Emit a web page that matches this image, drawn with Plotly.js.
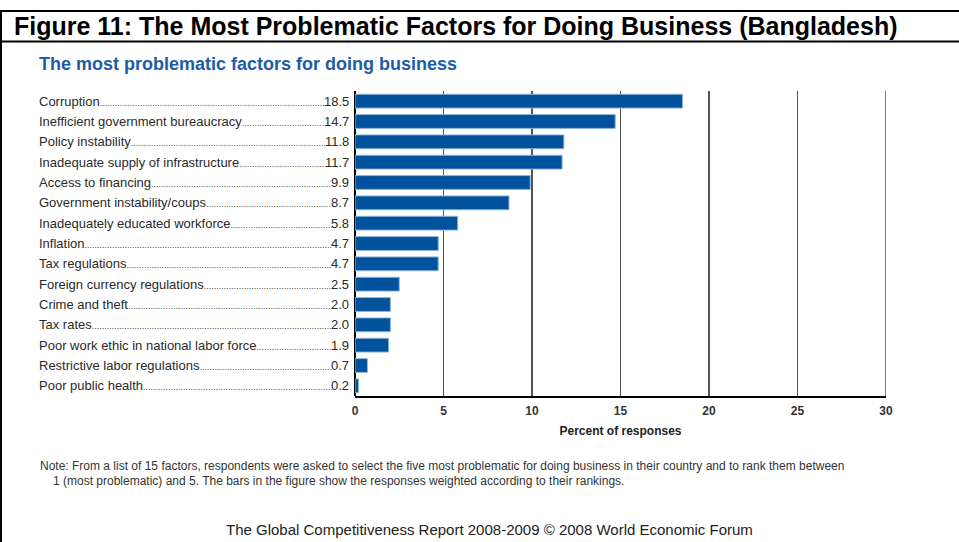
<!DOCTYPE html>
<html>
<head>
<meta charset="utf-8">
<script src="https://cdn.plot.ly/plotly-3.0.1.min.js"></script>
<style>html,body{margin:0;padding:0;background:#fff;}#chart{width:959px;height:542px;}</style>
</head>
<body>
<div id="chart"></div>
<script>
// ---- data ----
const categories = [
  "Corruption",
  "Inefficient government bureaucracy",
  "Policy instability",
  "Inadequate supply of infrastructure",
  "Access to financing",
  "Government instability/coups",
  "Inadequately educated workforce",
  "Inflation",
  "Tax regulations",
  "Foreign currency regulations",
  "Crime and theft",
  "Tax rates",
  "Poor work ethic in national labor force",
  "Restrictive labor regulations",
  "Poor public health"
];
const values = [18.5, 14.7, 11.8, 11.7, 9.9, 8.7, 5.8, 4.7, 4.7, 2.5, 2.0, 2.0, 1.9, 0.7, 0.2];
const valueLabels = ["18.5", "14.7", "11.8", "11.7", "9.9", "8.7", "5.8", "4.7", "4.7", "2.5", "2.0", "2.0", "1.9", "0.7", "0.2"];
const tickValues = [0, 5, 10, 15, 20, 25, 30];
const tickLabels = ["0", "5", "10", "15", "20", "25", "30"];

const figureTitle = "Figure 11: The Most Problematic Factors for Doing Business (Bangladesh)";
const chartTitle = "The most problematic factors for doing business";
const xTitle = "Percent of responses";
const noteLine1 = "Note: From a list of 15 factors, respondents were asked to select the five most problematic for doing business in their country and to rank them between";
const noteLine2 = "1 (most problematic) and 5. The bars in the figure show the responses weighted according to their rankings.";
const footer = "The Global Competitiveness Report 2008-2009 \u00A9 2008 World Economic Forum";

// ---- layout helpers (pixel -> paper) ----
const W = 959, H = 542;
const M = {l: 355, r: 73, t: 91, b: 146};
const PW = W - M.l - M.r, PH = H - M.t - M.b;
const px = x => (x - M.l) / PW;
const py = y => (H - M.b - y) / PH;

const FONT = "'Liberation Sans', Arial, Helvetica, sans-serif";
const canvas = document.createElement('canvas');
const ctx = canvas.getContext('2d');
function textW(str, size, weight) {
  ctx.font = (weight || 'normal') + ' ' + size + 'px ' + FONT;
  return ctx.measureText(str).width;
}

const labelSize = 13, dotSize = 9;
const labelLeft = 38, valueRight = 349;
const dotW = textW('.', dotSize);

const annotations = [];
categories.forEach((c, i) => {
  const lw = textW(c, labelSize);
  const vw = textW(valueLabels[i], labelSize);
  const gap = (valueRight - vw) - (labelLeft + lw);
  const n = Math.max(0, Math.round(gap / dotW));
  annotations.push({
    xref: 'paper', yref: 'y', x: px(labelLeft), y: c,
    xanchor: 'left', yanchor: 'middle', showarrow: false, borderpad: 0,
    text: c + '<span style="font-size:' + dotSize + 'px;fill:#444">' + '.'.repeat(n) + '</span>',
    font: {family: FONT, size: labelSize, color: '#2a2a2a'}
  });
  annotations.push({
    xref: 'paper', yref: 'y', x: px(valueRight + 1), y: c,
    xanchor: 'right', yanchor: 'middle', showarrow: false, borderpad: 0,
    text: valueLabels[i],
    font: {family: FONT, size: labelSize, color: '#2a2a2a'}
  });
});

annotations.push({
  xref: 'paper', yref: 'paper', x: px(12), y: py(26), xanchor: 'left', yanchor: 'middle',
  showarrow: false, text: '<b>' + figureTitle + '</b>',
  font: {family: FONT, size: 25, color: '#000'}
});
annotations.push({
  xref: 'paper', yref: 'paper', x: px(37), y: py(64), xanchor: 'left', yanchor: 'middle',
  showarrow: false, text: '<b>' + chartTitle + '</b>',
  font: {family: FONT, size: 18, color: '#1d5ca6'}
});
annotations.push({
  xref: 'paper', yref: 'paper', x: px(38), y: py(466), xanchor: 'left', yanchor: 'middle',
  showarrow: false, text: noteLine1,
  font: {family: FONT, size: 12, color: '#333'}
});
annotations.push({
  xref: 'paper', yref: 'paper', x: px(51), y: py(481), xanchor: 'left', yanchor: 'middle',
  showarrow: false, text: noteLine2,
  font: {family: FONT, size: 12, color: '#333'}
});
annotations.push({
  xref: 'paper', yref: 'paper', x: px(489), y: py(529), xanchor: 'center', yanchor: 'middle',
  showarrow: false, text: footer,
  font: {family: FONT, size: 15, color: '#222'}
});

const shapes = [
  {type: 'line', xref: 'paper', yref: 'paper', x0: px(0), x1: px(959), y0: py(11), y1: py(11), line: {color: '#000', width: 2}},
  {type: 'line', xref: 'paper', yref: 'paper', x0: px(0), x1: px(959), y0: py(41.5), y1: py(41.5), line: {color: '#000', width: 2}},
  {type: 'line', xref: 'paper', yref: 'paper', x0: px(1), x1: px(1), y0: py(11), y1: py(542), line: {color: '#000', width: 2}},
  {type: 'line', xref: 'x', yref: 'paper', x0: tickValues[tickValues.length - 1], x1: tickValues[tickValues.length - 1], y0: 0, y1: 1, layer: 'below', line: {color: '#555', width: 1.5}}
];

const trace = {
  type: 'bar', orientation: 'h',
  x: values, y: categories,
  width: 0.68,
  marker: {color: '#00529c', line: {color: '#8fb4dc', width: 1}},
  hoverinfo: 'none'
};

const layout = {
  width: W, height: H,
  margin: M,
  paper_bgcolor: '#fff', plot_bgcolor: '#fff',
  showlegend: false,
  xaxis: {
    range: [0, 30], tickvals: tickValues, ticktext: tickLabels,
    showgrid: true, gridcolor: '#555', gridwidth: 1.5,
    zeroline: true, zerolinecolor: '#000', zerolinewidth: 2,
    showline: true, linecolor: '#000', linewidth: 2,
    ticks: '', ticklen: 0, ticklabelstandoff: 3,
    tickfont: {family: FONT, size: 12, color: '#333', weight: 'bold'},
    title: {text: xTitle, font: {family: FONT, size: 12, color: '#222', weight: 'bold'}, standoff: 9},
    fixedrange: true
  },
  yaxis: {
    type: 'category', categoryorder: 'array', categoryarray: categories,
    autorange: 'reversed', showticklabels: false, showgrid: false, zeroline: false,
    showline: false, ticks: '', fixedrange: true
  },
  annotations: annotations,
  shapes: shapes
};

Plotly.newPlot('chart', [trace], layout, {displayModeBar: false, staticPlot: true});
</script>
</body>
</html>
